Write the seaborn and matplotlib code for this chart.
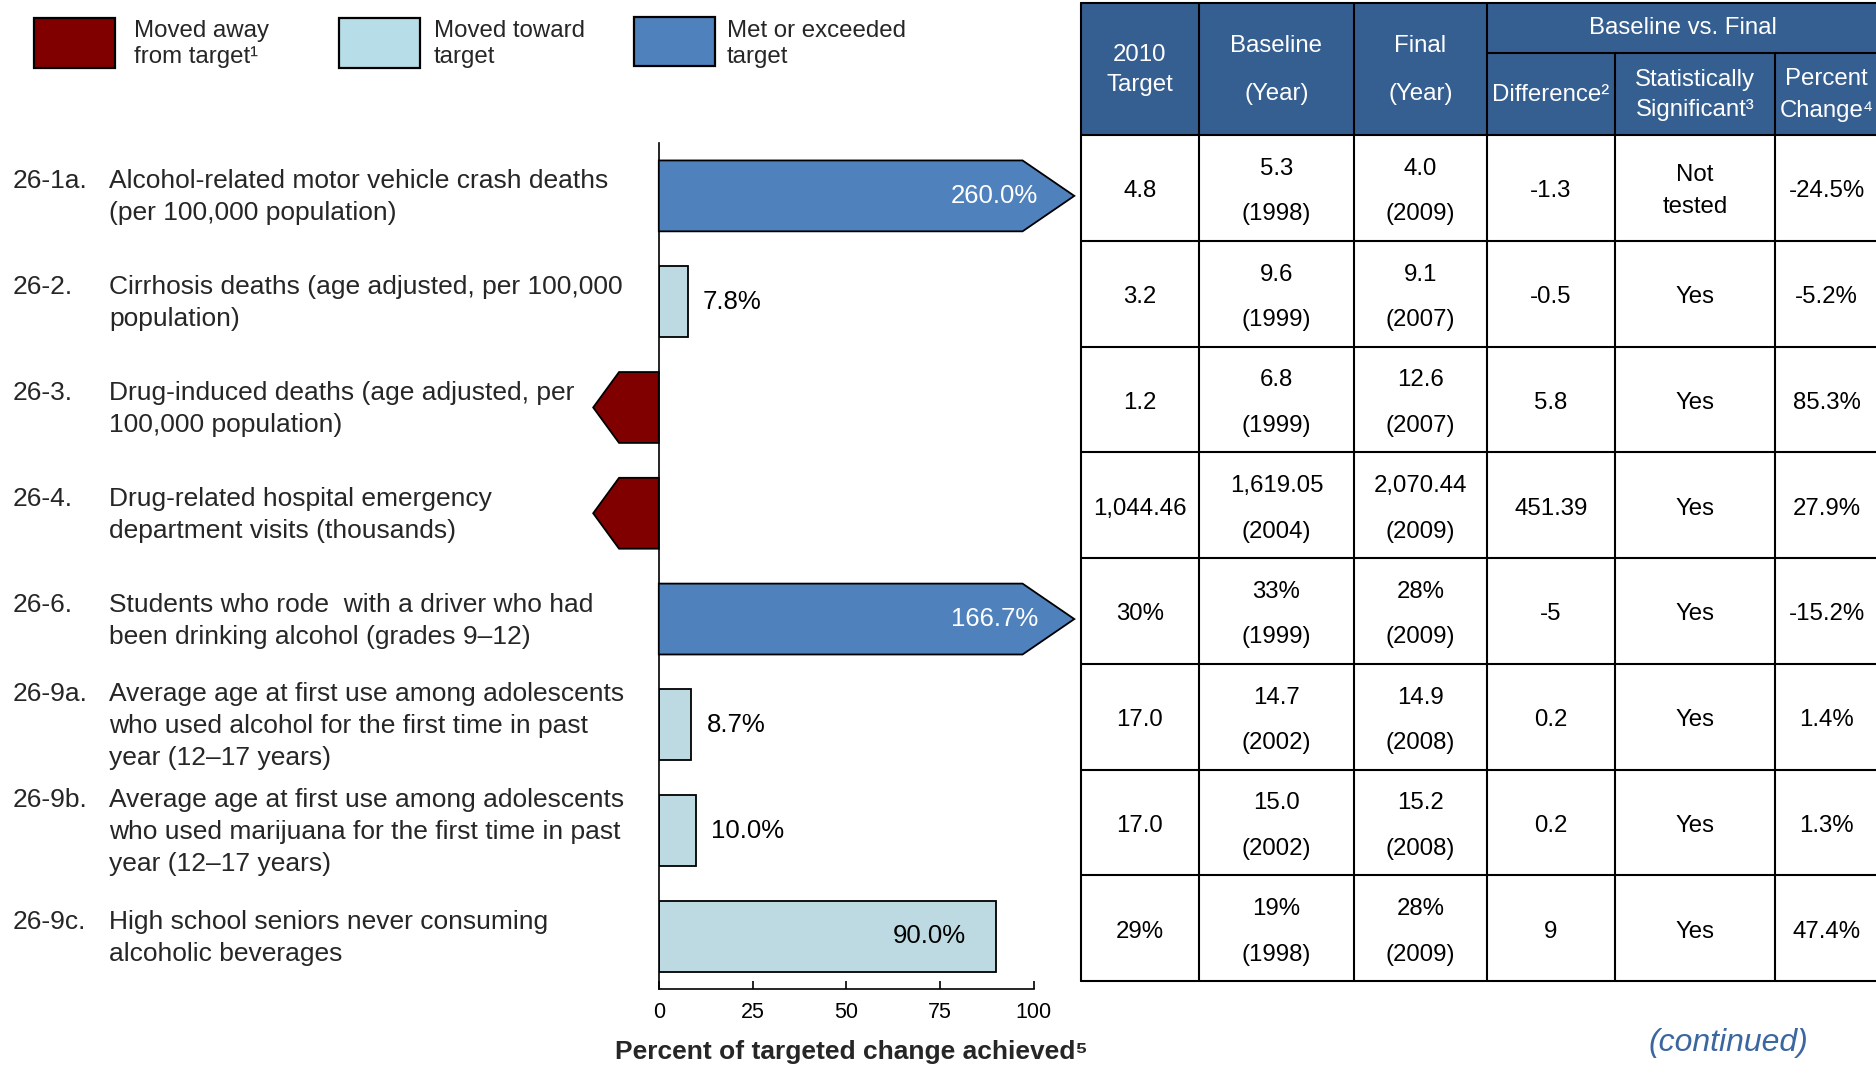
import numpy as np
import pandas as pd
import matplotlib
matplotlib.use("Agg")
import matplotlib.pyplot as plt
from matplotlib.patches import Rectangle, Polygon
from matplotlib.transforms import blended_transform_factory
import seaborn as sns

# ---- objectives -------------------------------------------------------------
codes = ["26-1a.", "26-2.", "26-3.", "26-4.", "26-6.", "26-9a.", "26-9b.", "26-9c."]
labels = [
    "Alcohol-related motor vehicle crash deaths\n(per 100,000 population)",
    "Cirrhosis deaths (age adjusted, per 100,000\npopulation)",
    "Drug-induced deaths (age adjusted, per\n100,000 population)",
    "Drug-related hospital emergency\ndepartment visits (thousands)",
    "Students who rode  with a driver who had\nbeen drinking alcohol (grades 9\u201312)",
    "Average age at first use among adolescents\nwho used alcohol for the first time in past\nyear (12\u201317 years)",
    "Average age at first use among adolescents\nwho used marijuana for the first time in past\nyear (12\u201317 years)",
    "High school seniors never consuming\nalcoholic beverages",
]
status = ["met", "toward", "away", "away", "met", "toward", "toward", "toward"]
achieved = [260.0, 7.8, np.nan, np.nan, 166.7, 8.7, 10.0, 90.0]

# ---- table columns ----------------------------------------------------------
target_2010 = ["4.8", "3.2", "1.2", "1,044.46", "30%", "17.0", "17.0", "29%"]
baseline_val = ["5.3", "9.6", "6.8", "1,619.05", "33%", "14.7", "15.0", "19%"]
baseline_year = ["1998", "1999", "1999", "2004", "1999", "2002", "2002", "1998"]
final_val = ["4.0", "9.1", "12.6", "2,070.44", "28%", "14.9", "15.2", "28%"]
final_year = ["2009", "2007", "2007", "2009", "2009", "2008", "2008", "2009"]
difference = ["-1.3", "-0.5", "5.8", "451.39", "-5", "0.2", "0.2", "9"]
significant = ["Not\ntested", "Yes", "Yes", "Yes", "Yes", "Yes", "Yes", "Yes"]
pct_change = ["-24.5%", "-5.2%", "85.3%", "27.9%", "-15.2%", "1.4%", "1.3%", "47.4%"]

# ---- styling ----------------------------------------------------------------
COLORS = {"away": "#800000", "toward": "#B7DEE8", "met": "#4F81BD"}
HEADER_BLUE = "#365F91"
SHOULDER = 97.0      # where the arrow head starts for exceeded targets
TIP = 110.8          # arrow point for exceeded targets
AWAY_SHOULDER = 10.6 # left arrows for objectives that moved away
AWAY_TIP = 17.5

sns.set_style("white")
plt.rcParams["font.family"] = ["Liberation Sans", "DejaVu Sans"]

W, H = 1876, 1066
fig = plt.figure(figsize=(W / 100, H / 100), dpi=100)

# ---- bar panel --------------------------------------------------------------
df = pd.DataFrame({"code": codes, "status": status, "achieved": achieved})
drawn = []
for s, v in zip(status, achieved):
    if s == "met":
        drawn.append(min(v, SHOULDER))
    elif s == "away":
        drawn.append(-AWAY_SHOULDER)
    else:
        drawn.append(v)
df["drawn"] = drawn

ax = fig.add_axes([658.8 / W, 1 - 989.3 / H, 375.0 / W, 846.3 / H])
sns.barplot(data=df, x="drawn", y="code", hue="status", order=codes,
            palette=COLORS, dodge=False, width=0.67, orient="h",
            edgecolor="black", linewidth=1.3, legend=False, ax=ax)

# turn capped bars into arrow shapes
for p in list(ax.patches):
    w = p.get_width()
    if not np.isfinite(w) or p.get_height() == 0:
        continue
    y0, h = p.get_y(), p.get_height()
    i = int(round(y0 + h / 2))
    yc = y0 + h / 2
    if status[i] == "met":
        tip = TIP
    elif status[i] == "away":
        tip = -AWAY_TIP
    else:
        continue
    p.set_visible(False)
    ax.add_patch(Polygon([(0, y0), (w, y0), (tip, yc), (w, y0 + h), (0, y0 + h)],
                         closed=True, facecolor=COLORS[status[i]],
                         edgecolor="black", linewidth=1.3, clip_on=False, zorder=3))

# value labels
for i, (s, v, d) in enumerate(zip(status, achieved, drawn)):
    if s == "away":
        continue
    txt = f"{v:.1f}%"
    if s == "met":
        ax.text(d + 4.1, i, txt, ha="right", va="center", color="white", fontsize=18.5)
    elif v > 50:
        ax.text(v - 8, i, txt, ha="right", va="center", color="black", fontsize=18.5)
    else:
        ax.text(v + 4, i, txt, ha="left", va="center", color="black", fontsize=18.5)

ax.set_xlim(0, 100)
ax.set_ylim(7.5, -0.5)
ax.set_xticks([0, 25, 50, 75, 100])
ax.set_yticks([])
ax.set_xlabel("")
ax.set_ylabel("")
for side in ("top", "right"):
    ax.spines[side].set_visible(False)
for side in ("left", "bottom"):
    ax.spines[side].set_color("black")
    ax.spines[side].set_linewidth(1.2)
ax.tick_params(axis="x", direction="in", length=6, width=1.2, pad=9,
               labelsize=15.5, colors="black", bottom=True)
ax.patch.set_alpha(0)

fig.text(851 / W, 1 - 1051.7 / H, "Percent of targeted change achieved\u2075",
         ha="center", va="center", fontsize=19, fontweight="bold")

# objective labels
lab_tr = blended_transform_factory(fig.transFigure, ax.transData)
for i, (c, lab) in enumerate(zip(codes, labels)):
    n = lab.count("\n") + 1
    y = i + 0.015
    ax.text(109.4 / W, y, lab, transform=lab_tr, ha="left", va="center",
            fontsize=19, linespacing=1.42)
    ax.text(12.6 / W, y, c + "\n " * (n - 1), transform=lab_tr, ha="left",
            va="center", fontsize=19, linespacing=1.42)

# ---- legend -----------------------------------------------------------------
leg_items = [
    ("away", 34.4, 18.3, "Moved away\nfrom target\u00b9", 134.0),
    ("toward", 338.8, 18.3, "Moved toward\ntarget", 433.5),
    ("met", 633.6, 16.7, "Met or exceeded\ntarget", 727.0),
]
for key, x0, y0, text, tx in leg_items:
    fig.add_artist(Rectangle((x0 / W, 1 - (y0 + 49.5) / H), 81 / W, 49.5 / H,
                             transform=fig.transFigure, facecolor=COLORS[key],
                             edgecolor="black", linewidth=1.6))
    fig.text(tx / W, 1 - 44 / H, text, ha="left", va="center",
             fontsize=17.3, linespacing=1.26)

# ---- data table -------------------------------------------------------------
tab = fig.add_axes([0, 0, 1, 1])
tab.set_xlim(0, W)
tab.set_ylim(H, 0)
tab.axis("off")
tab.patch.set_alpha(0)

col_edges = [1081, 1199, 1354, 1487, 1615, 1775, 1878]
col_mid = [(a + b) / 2 for a, b in zip(col_edges[:-1], col_edges[1:])]
top, head_split, head_bot, bottom = 2.5, 53.3, 135.0, 981.0
n_rows = len(codes)
row_h = (bottom - head_bot) / n_rows
LW = 1.5
TS = 17.3

tab.add_patch(Rectangle((col_edges[0], top), col_edges[-1] - col_edges[0],
                        head_bot - top, facecolor=HEADER_BLUE, edgecolor="none"))

# grid lines
tab.plot([col_edges[0], col_edges[-1]], [top, top], color="black", lw=LW)
tab.plot([col_edges[3], col_edges[-1]], [head_split, head_split], color="black", lw=LW)
for r in range(n_rows + 1):
    y = head_bot + r * row_h
    tab.plot([col_edges[0], col_edges[-1]], [y, y], color="black", lw=LW)
for j, x in enumerate(col_edges[:-1]):
    y_start = head_split if j in (4, 5) else top
    tab.plot([x, x], [y_start, bottom], color="black", lw=LW)

# header text
white = dict(color="white", fontsize=TS, ha="center", va="center")
tab.text(col_mid[0], 70, "2010\nTarget", linespacing=1.45, **white)
tab.text(col_mid[1], 46.5, "Baseline", **white)
tab.text(col_mid[1], 94, "(Year)", **white)
tab.text(col_mid[2], 46.5, "Final", **white)
tab.text(col_mid[2], 94, "(Year)", **white)
tab.text((col_edges[3] + col_edges[-1]) / 2, 28, "Baseline vs. Final", **white)
tab.text(col_mid[3], 95, "Difference\u00b2", **white)
tab.text(col_mid[4], 95, "Statistically\nSignificant\u00b3", linespacing=1.45, **white)
tab.text(col_mid[5], 95, "Percent\nChange\u2074", linespacing=1.6, **white)

# body text
black = dict(color="black", fontsize=TS, ha="center", va="center")
for r in range(n_rows):
    yc = head_bot + (r + 0.5) * row_h + 3.5
    tab.text(col_mid[0], yc, target_2010[r], **black)
    tab.text(col_mid[1], yc - 22.5, baseline_val[r], **black)
    tab.text(col_mid[1], yc + 23, f"({baseline_year[r]})", **black)
    tab.text(col_mid[2], yc - 22.5, final_val[r], **black)
    tab.text(col_mid[2], yc + 23, f"({final_year[r]})", **black)
    tab.text(col_mid[3], yc, difference[r], **black)
    tab.text(col_mid[4], yc, significant[r], linespacing=1.6, **black)
    tab.text(col_mid[5], yc, pct_change[r], **black)

tab.text(1728, 1043, "(continued)", color="#3B67A0", fontsize=23,
         fontstyle="italic", ha="center", va="center")

fig.savefig("out.png", dpi=100)
